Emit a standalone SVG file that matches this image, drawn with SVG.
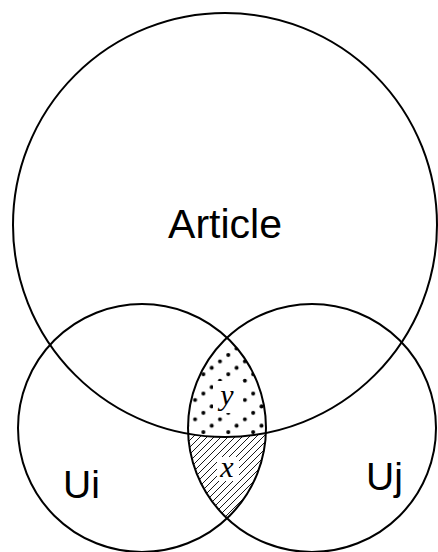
<svg xmlns="http://www.w3.org/2000/svg" width="438" height="552" viewBox="0 0 438 552">
<style>
.c{fill:none;stroke:#000;stroke-width:2}
.lbl{font-family:"Liberation Sans",Arial,sans-serif;fill:#000}
.var{font-family:"Liberation Serif","Times New Roman",serif;font-style:italic;fill:#000;text-anchor:middle}
.d{fill:#000}
</style>
<defs>
<pattern id="dots" patternUnits="userSpaceOnUse" x="224.3" y="352" width="24.9" height="19.3">
<circle class="d" cx="4" cy="3" r="2"/>
<circle class="d" cx="12.3" cy="15.87" r="2"/>
<circle class="d" cx="20.6" cy="9.43" r="2"/>
</pattern>
<pattern id="hatch" patternUnits="userSpaceOnUse" width="7" height="7">
<path d="M0,7 L7,0 M-1,1 L1,-1 M6,8 L8,6" stroke="#000" stroke-width="0.9" fill="none"/>
</pattern>
<clipPath id="lens">
<path d="M227,337.72 A124,124 0 0 1 227,518.28 A124,124 0 0 1 227,337.72 Z"/>
</clipPath>
</defs>
<rect width="438" height="552" fill="#fff"/>
<g id="regions" clip-path="url(#lens)">
<rect x="180" y="330" width="100" height="200" fill="url(#hatch)"/>
<circle cx="225" cy="225" r="212" fill="#fff"/>
<circle cx="225" cy="225" r="212" fill="url(#dots)"/>
<rect x="213" y="381" width="30" height="32" fill="#fff"/>
<rect x="217" y="457" width="22" height="24" fill="#fff"/>
</g>
<g id="article">
<circle class="c" cx="225" cy="225" r="212"/>
<text class="lbl" x="225" y="238" font-size="41" text-anchor="middle">Article</text>
</g>
<g id="ui">
<circle class="c" cx="142" cy="428" r="124"/>
<text class="lbl" x="63" y="498" font-size="39">Ui</text>
</g>
<g id="uj">
<circle class="c" cx="312" cy="428" r="124"/>
<text class="lbl" x="366" y="490" font-size="39">Uj</text>
</g>
<g id="labels">
<text class="var" x="227" y="405" font-size="30">y</text>
<text class="var" x="227" y="477" font-size="30">x</text>
</g>
<g id="connectors"/>
</svg>
